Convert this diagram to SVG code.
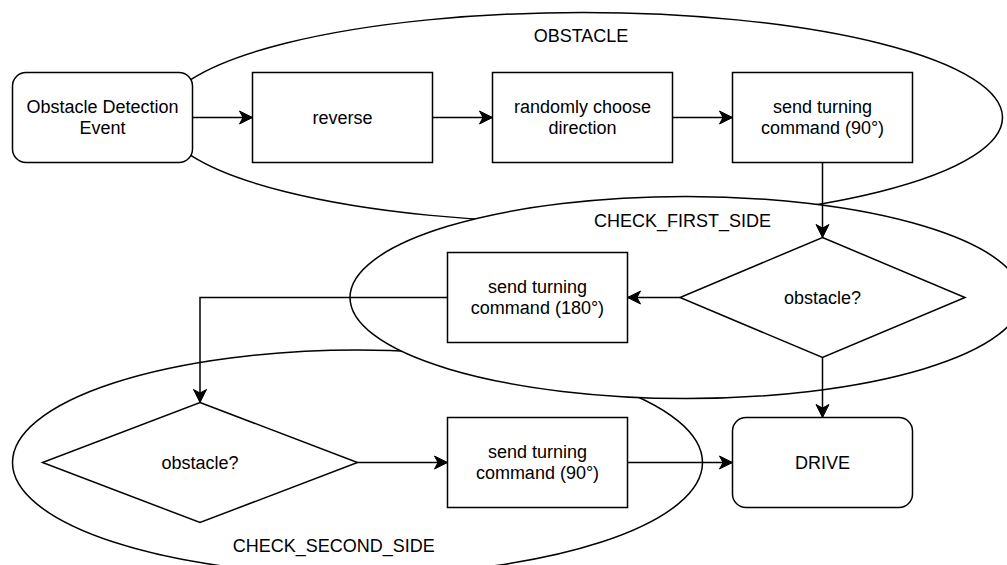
<svg xmlns="http://www.w3.org/2000/svg" width="1007" height="565" viewBox="0 0 1007 565">
  <style>
    .shape { fill: #ffffff; stroke: #000000; stroke-width: 1.5; }
    .region { fill: #ffffff; stroke: #000000; stroke-width: 1.5; }
    .edge { fill: none; stroke: #000000; stroke-width: 1.5; marker-end: url(#arrow); }
    text { font-family: "Liberation Sans", Arial, sans-serif; font-size: 18px; fill: #000000; text-anchor: middle; }
  </style>
  <defs>
    <marker id="arrow" markerUnits="userSpaceOnUse" markerWidth="16" markerHeight="16" viewBox="-14 -8 16 16" refX="0" refY="0" orient="auto">
      <path d="M0,0 L-13,-6.5 L-9.5,0 L-13,6.5 Z" fill="#000000" stroke="#000000" stroke-width="1"/>
    </marker>
  </defs>

  <!-- regions (state groupings) -->
  <g id="region-check-second-side">
    <ellipse class="region" cx="357.5" cy="462.5" rx="345" ry="112.5"/>
  </g>
  <g id="region-obstacle">
    <ellipse class="region" cx="582.5" cy="117.5" rx="420" ry="105"/>
  </g>
  <g id="region-check-first-side">
    <ellipse class="region" cx="686" cy="297.5" rx="336" ry="101"/>
  </g>

  <!-- nodes -->
  <g id="node-start">
    <rect class="shape" x="12.5" y="72.5" width="180" height="90" rx="13.5" ry="13.5"/>
    <text x="102.5" y="113">Obstacle Detection</text>
    <text x="102.5" y="134">Event</text>
  </g>
  <g id="node-reverse">
    <rect class="shape" x="252.5" y="72.5" width="180" height="90"/>
    <text x="342.5" y="124">reverse</text>
  </g>
  <g id="node-random">
    <rect class="shape" x="492.5" y="72.5" width="180" height="90"/>
    <text x="582.5" y="113">randomly choose</text>
    <text x="582.5" y="134">direction</text>
  </g>
  <g id="node-turn90a">
    <rect class="shape" x="732.5" y="72.5" width="180" height="90"/>
    <text x="822.5" y="113">send turning</text>
    <text x="822.5" y="134">command (90°)</text>
  </g>
  <g id="node-obstacle1">
    <polygon class="shape" points="822.5,237.5 965,297.5 822.5,357.5 680,297.5"/>
    <text x="822.5" y="304">obstacle?</text>
  </g>
  <g id="node-turn180">
    <rect class="shape" x="447.5" y="252.5" width="180" height="90"/>
    <text x="537.5" y="293">send turning</text>
    <text x="537.5" y="314">command (180°)</text>
  </g>
  <g id="node-obstacle2">
    <polygon class="shape" points="200,402.5 357.5,462.5 200,522.5 42.5,462.5"/>
    <text x="200" y="469">obstacle?</text>
  </g>
  <g id="node-turn90b">
    <rect class="shape" x="447.5" y="417.5" width="180" height="90"/>
    <text x="537.5" y="458">send turning</text>
    <text x="537.5" y="479">command (90°)</text>
  </g>
  <g id="node-drive">
    <rect class="shape" x="732.5" y="417.5" width="180" height="90" rx="13.5" ry="13.5"/>
    <text x="822.5" y="469">DRIVE</text>
  </g>

  <!-- connectors -->
  <g id="connectors">
    <path class="edge" d="M192.5,117.5 L252.5,117.5"/>
    <path class="edge" d="M432.5,117.5 L492.5,117.5"/>
    <path class="edge" d="M672.5,117.5 L732.5,117.5"/>
    <path class="edge" d="M822.5,162.5 L822.5,237.5"/>
    <path class="edge" d="M680,297.5 L627.5,297.5"/>
    <path class="edge" d="M447.5,297.5 L200,297.5 L200,402.5"/>
    <path class="edge" d="M357.5,462.5 L447.5,462.5"/>
    <path class="edge" d="M627.5,462.5 L732.5,462.5"/>
    <path class="edge" d="M822.5,357.5 L822.5,417.5"/>
  </g>

  <!-- region labels -->
  <g id="labels">
    <text x="581" y="41.5">OBSTACLE</text>
    <text x="682.5" y="226.5">CHECK_FIRST_SIDE</text>
    <text x="333.7" y="551.5">CHECK_SECOND_SIDE</text>
  </g>
</svg>
